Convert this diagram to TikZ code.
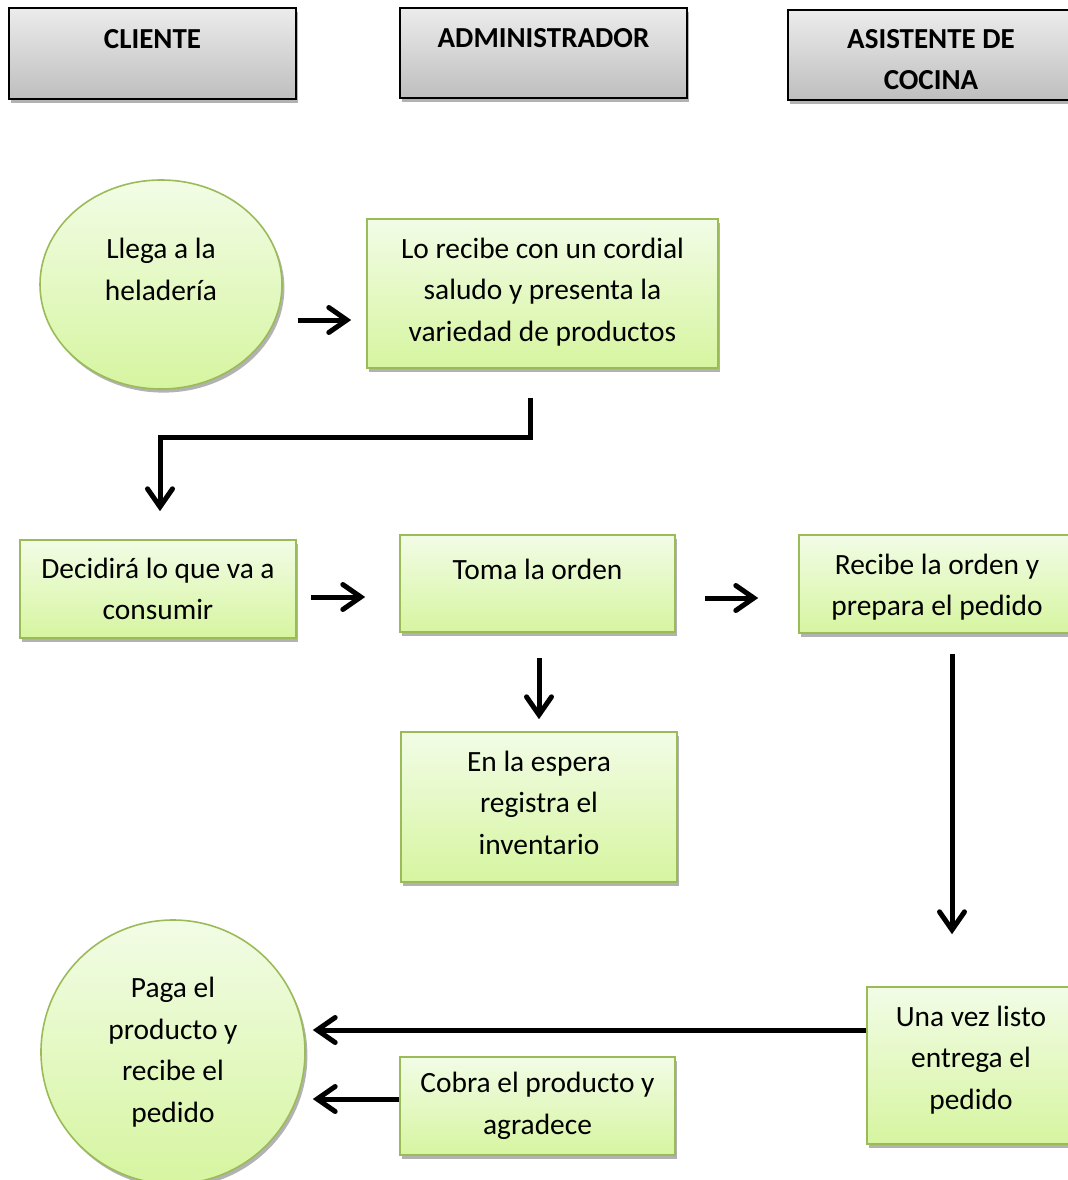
\documentclass[tikz,border=0pt]{standalone}
\usepackage{fontspec}
\setmainfont{Carlito}
\usetikzlibrary{shapes.geometric,shadows,arrows.meta}
\definecolor{gtop}{RGB}{242,252,230}
\definecolor{gbot}{RGB}{214,245,160}
\definecolor{gline}{RGB}{155,187,89}
\definecolor{htop}{RGB}{236,236,236}
\definecolor{hbot}{RGB}{190,190,190}
\tikzset{
  x=0.5pt, y=-0.5pt,
  txtfont/.style={font=\fontsize{14.7pt}{20.75pt}\selectfont, align=center, inner sep=0pt},
  hfont/.style={font=\fontsize{14.5pt}{20.75pt}\selectfont\bfseries, align=center, inner sep=0pt},
  shad/.style={drop shadow={shadow xshift=1.2pt, shadow yshift=-1.8pt, opacity=0.3, fill=black}},
  header/.style={hfont, draw=black, line width=1pt,
    top color=htop, bottom color=hbot, shad, rectangle},
  gbox/.style={txtfont, draw=gline, line width=0.8pt, top color=gtop, bottom color=gbot, shad, rectangle},
  gell/.style={txtfont, draw=gline, line width=0.8pt, top color=gtop, bottom color=gbot, shad, ellipse},
  arr/.style={line width=2.5pt, -{Straight Barb[length=9pt,width=12.5pt,line cap=round]}},
}
\begin{document}
\begin{tikzpicture}
\useasboundingbox (0,0) rectangle (1068,1180);
% headers
\node[header, minimum width=143.5pt, minimum height=45.5pt, text depth=14.5pt] (h1) at (152.5,53.5) {CLIENTE};
\node[header, minimum width=143.5pt, minimum height=45pt, text depth=15pt] (h2) at (543.5,53) {ADMINISTRADOR};
\node[header, minimum width=143pt, minimum height=45pt] (h3) at (931,55) {};
\node[hfont] (h3t) at (931,59.5) {ASISTENTE DE\\COCINA};
% shapes
\node[gell, minimum width=121pt, minimum height=104.5pt, text depth=15pt] (c1) at (161,284.5) {Llega a la\\heladería};
\node[gbox, minimum width=175.5pt, minimum height=74.5pt, text depth=4pt] (b2) at (542.5,293.5) {Lo recibe con un cordial\\saludo y presenta la\\variedad de productos};
\node[gbox, minimum width=138pt, minimum height=49pt] (b3) at (158,589) {Decidirá lo que va a\\consumir};
\node[gbox, minimum width=137.5pt, minimum height=48.5pt, text depth=14.5pt] (b4) at (537.5,583.5) {Toma la orden};
\node[gbox, minimum width=138pt, minimum height=49pt] (b5) at (937,584) {};
\node[txtfont] (b5t) at (937,587) {Recibe la orden y\\prepara el pedido};
\node[gbox, minimum width=138pt, minimum height=75pt, text depth=4.5pt] (b6) at (539,807) {En la espera\\registra el\\inventario};
\node[gbox, minimum width=104pt, minimum height=78.5pt, text depth=8pt] (b7) at (971,1065.5) {Una vez listo\\entrega el\\pedido};
\node[gell, minimum width=132pt, minimum height=132pt] (c2) at (173,1052) {Paga el\\producto y\\recibe el\\pedido};
\node[gbox, minimum width=137.5pt, minimum height=49pt] (b8) at (537.5,1106) {Cobra el producto y\\agradece};
% helper coordinates
\coordinate (y1) at (0,320);
\coordinate (e1) at (530,437);
\coordinate (e2) at (160,437);
\coordinate (y2) at (0,597);
\coordinate (y3) at (0,598);
\coordinate (v) at (952,0);
\coordinate (y6) at (0,1030);
\coordinate (y7) at (0,1099);
% connectors
\draw[arr, shorten <=7.5pt, shorten >=7.5pt] (c1.east |- y1) -- (b2.west |- y1);
\draw[arr, shorten <=14.5pt, shorten >=14pt] (b2.south -| e1) -- (e1) -- (e2) -- (b3.north -| e2);
\draw[arr, shorten <=7pt, shorten >=17pt] (b3.east |- y2) -- (b4.west |- y2);
\draw[arr, shorten <=14.5pt, shorten >=20pt] (b4.east |- y3) -- (b5.west |- y3);
\draw[arr, shorten <=12.5pt, shorten >=6pt] (b4.south -| b6) -- (b6.north);
\draw[arr, shorten <=10pt, shorten >=26pt] (b5.south -| v) -- (b7.north -| v);
\draw[arr, shorten >=3.5pt] (b7.west |- y6) -- (c2.east |- y6);
\draw[arr, shorten >=3.5pt] (b8.west |- y7) -- (c2.east |- y7);
\end{tikzpicture}
\end{document}
